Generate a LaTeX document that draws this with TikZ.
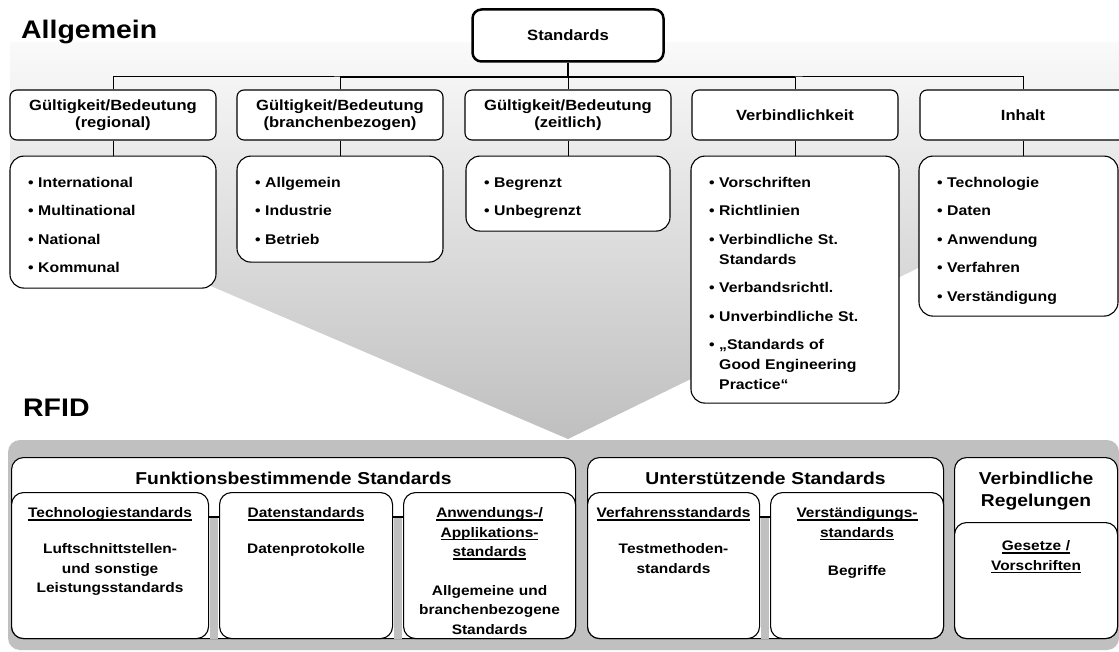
\documentclass[tikz,border=0pt]{standalone}
\usepackage{fontspec}
\setmainfont{Liberation Sans}[FakeStretch=1.12]
\usetikzlibrary{positioning}
\definecolor{panelgray}{RGB}{192,192,192}
\newcommand{\itm}[1]{\textbullet\ #1}
\newcommand{\hang}{\phantom{\textbullet\ }}
\newcommand{\gap}{\\[8.5pt]}
\newcommand{\ul}[1]{\leavevmode\setbox0\hbox{#1}\rlap{\vrule height -1.8pt depth 3.3pt width \wd0}\box0}
\tikzset{
  conn/.style={line width=1pt},
  title/.style={inner sep=0pt, font=\bfseries\fontsize{25.4}{30}\selectfont},
  stdbox/.style={draw, line width=2.5pt, rounded corners=9pt, fill=white,
    minimum width=191pt, minimum height=52pt, font=\bfseries\fontsize{14.9}{18}\selectfont},
  hdr/.style={draw, line width=1.1pt, rounded corners=7pt, fill=white,
    minimum width=206pt, minimum height=50pt, text width=196pt, align=center,
    inner sep=0pt, font=\bfseries\fontsize{14.8}{17}\selectfont},
  lst/.style={draw, line width=1.1pt, rounded corners=14pt, fill=white,
    align=left, inner xsep=18pt, inner ysep=0pt, text height=31pt,
    font=\bfseries\fontsize{14.1}{20}\selectfont},
  grp/.style={draw, line width=1.1pt, rounded corners=12pt, fill=white,
    align=center, inner xsep=4pt, inner ysep=0pt, text height=27pt, text depth=154pt,
    anchor=north west, font=\bfseries\fontsize{17.2}{22}\selectfont},
  sub/.style={draw, line width=1.1pt, rounded corners=12pt, fill=white,
    align=center, inner xsep=3pt, inner ysep=0pt, text height=25pt, text depth=121pt,
    anchor=north west, font=\bfseries\fontsize{13.8}{19.5}\selectfont}
}
\begin{document}
\begin{tikzpicture}[x=1pt,y=-1pt]
  \useasboundingbox (0,0) rectangle (1119,652);
  % Background
  \shade[top color=black!2, bottom color=black!25]
    (10,42) -- (1119,42) -- (1119,170) -- (568,439) -- (10,200) -- cycle;
  \fill[panelgray, rounded corners=12pt] (8,440) rectangle (1119,650);
  % Define nodes
  \node[title, anchor=base west] (allg) at (21,39) {Allgemein};
  \node[title, anchor=base west] (rfid) at (23,416) {RFID};
  \node[stdbox] (std) at (568,35.5) {Standards};
  \node[hdr] (reg)  at (113,115)  {Gültigkeit/Bedeutung\\(regional)};
  \node[hdr] (bra)  at (340,115)  {Gültigkeit/Bedeutung\\(branchenbezogen)};
  \node[hdr] (zeit) at (568,115)  {Gültigkeit/Bedeutung\\(zeitlich)};
  \node[hdr] (verb) at (795,115)  {Verbindlichkeit};
  \node[hdr] (inh)  at (1023,115) {Inhalt};
  \node[lst, text width=170pt, text depth=101pt, below=15pt of reg] (reglst)
    {\itm{International}\gap\itm{Multinational}\gap\itm{National}\gap\itm{Kommunal}};
  \node[lst, text width=170pt, text depth=75pt, below=15pt of bra] (bralst)
    {\itm{Allgemein}\gap\itm{Industrie}\gap\itm{Betrieb}};
  \node[lst, text width=168pt, text depth=44pt, below=15pt of zeit] (zeitlst)
    {\itm{Begrenzt}\gap\itm{Unbegrenzt}};
  \node[lst, text width=172pt, text depth=216pt, below=15pt of verb] (verblst)
    {\itm{Vorschriften}\gap\itm{Richtlinien}\gap\itm{Verbindliche St.}\\\hang Standards\gap
     \itm{Verbandsrichtl.}\gap\itm{Unverbindliche St.}\gap
     \itm{„Standards of}\\\hang Good Engineering\\\hang Practice“};
  \node[lst, text width=163pt, text depth=129pt, below=15pt of inh, xshift=-4.5pt] (inhlst)
    {\itm{Technologie}\gap\itm{Daten}\gap\itm{Anwendung}\gap\itm{Verfahren}\gap\itm{Verständigung}};
  \node[grp, text width=556pt] (funk) at (11,457)  {Funktionsbestimmende Standards};
  \node[grp, text width=348pt] (unt)  at (587,457) {Unterstützende Standards};
  \node[grp, text width=155pt] (vreg) at (954,457) {Verbindliche\\Regelungen};
  \node[sub, text width=191pt] (tech) at (11,492)
    {\ul{Technologiestandards}\\[16.5pt]Luftschnittstellen-\\und sonstige\\Leistungsstandards};
  \node[sub, text width=167pt] (dat) at (219,492)
    {\ul{Datenstandards}\\[16.5pt]Datenprotokolle};
  \node[sub, text width=166pt] (anw) at (403,492)
    {\ul{Anwendungs-/}\\\ul{Applikations-}\\\ul{standards}\\[19pt]Allgemeine und\\branchenbezogene\\Standards};
  \node[sub, text width=166pt] (verf) at (587,492)
    {\ul{Verfahrensstandards}\\[16.5pt]Testmethoden-\\standards};
  \node[sub, text width=167pt] (verst) at (770,492)
    {\ul{Verständigungs-}\\\ul{standards}\\[19pt]Begriffe};
  \node[sub, text width=157pt, text height=28pt, text depth=88pt] (ges) at (954,522)
    {\ul{Gesetze /}\\\ul{Vorschriften}};
  % Connect nodes
  \coordinate (bus) at (568,77);
  \draw[conn, line width=2pt] (std) -- (bus);
  \draw[conn] (reg.north) |- (bus) -| (inh.north);
  \draw[conn, line width=2pt] (bra.north |- bus) -- (verb.north |- bus);
  \foreach \n in {bra, zeit, verb}
    \draw[conn] (\n.north) -- (\n.north |- bus);
  \foreach \a/\b in {reg/reglst, bra/bralst, zeit/zeitlst, verb/verblst}
    \draw[conn] (\a.south) -- (\b.north);
  \draw[conn] (inh.south) -- (inh.south |- inhlst.north);
  \foreach \a/\b in {tech/dat, dat/anw, verf/verst} {
    \fill[panelgray] ([xshift=0.55pt,yshift=-25pt]\a.north east) rectangle ([xshift=-0.55pt,yshift=0.55pt]\b.south west);
    \draw[conn, line width=1.1pt] ([yshift=-25pt]\a.north east) -- ([yshift=-25pt]\b.north west);
  }
\end{tikzpicture}
\end{document}
